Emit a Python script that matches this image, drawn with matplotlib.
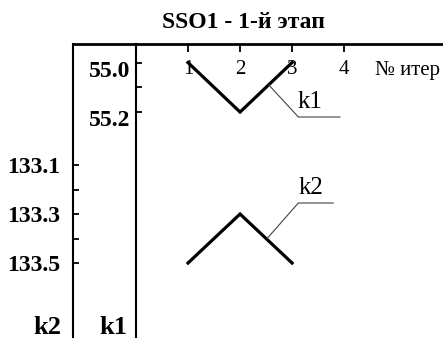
import matplotlib.pyplot as plt
from matplotlib.transforms import ScaledTranslation

plt.rcParams['font.family'] = ['Liberation Serif', 'DejaVu Serif']

# iterations of stage 1 and the two tracked coefficients
iters = [1, 2, 3]
k1 = [55.0, 55.2, 55.0]
k2 = [133.5, 133.3, 133.5]

iter_ticks = [1, 2, 3, 4]
k1_ticks = [55.0, 55.2]
k1_labels = ['55.0', '55.2']
k2_ticks = [133.1, 133.3, 133.5]
k2_labels = ['133.1', '133.3', '133.5']

W, H = 443, 345
fig = plt.figure(figsize=(W / 100, H / 100), dpi=100)
rect = [73 / W, 8 / H, 370 / W, 293 / H]
ax2 = fig.add_axes(rect)  # k2 scale on the outer left line
ax1 = fig.add_axes(rect)  # k1 scale on the inner line
ax1.patch.set_visible(False)

for ax in (ax1, ax2):
    ax.set_xlim(-1.21, 5.9)

ax2.set_ylim(133.802, 132.606)
ax1.set_ylim(56.109, 54.925)

# outer frame: top line with iteration ticks, left line for k2
for s in ('right', 'bottom'):
    ax2.spines[s].set_visible(False)
ax2.spines['top'].set_linewidth(2)
ax2.spines['left'].set_linewidth(1.5)
ax2.xaxis.tick_top()
ax2.set_xticks(iter_ticks)
ax2.tick_params(axis='x', direction='in', length=6, width=1.3, pad=-25, labelsize=15)
ax2.set_yticks(k2_ticks, labels=k2_labels, fontweight='bold')
ax2.set_yticks([133.2, 133.4], minor=True)
ax2.tick_params(axis='y', which='both', direction='in', length=4, width=1.3,
                pad=9, labelsize=17)

# inner line for k1
for s in ('right', 'bottom', 'top'):
    ax1.spines[s].set_visible(False)
ax1.spines['left'].set_position(('data', 0))
ax1.spines['left'].set_linewidth(1.5)
ax1.set_xticks([])
ax1.set_yticks(k1_ticks, labels=k1_labels, fontweight='bold')
ax1.set_yticks([55.1], minor=True)
ax1.tick_params(axis='y', which='both', direction='in', length=4, width=1.3,
                pad=4, labelsize=17)
# k1 numbers sit a little below their ticks
shift = ScaledTranslation(0, -6 / 100, fig.dpi_scale_trans)
for lab in ax1.get_yticklabels():
    lab.set_transform(lab.get_transform() + shift)

ax1.plot(iters, k1, color='black', lw=2.3, solid_joinstyle='miter')
ax2.plot(iters, k2, color='black', lw=2.3, solid_joinstyle='miter')

# leader lines with curve names
ax1.plot([2.55, 3.12, 3.92], [55.09, 55.22, 55.22], color='#444444', lw=0.8)
ax1.text(3.35, 55.205, 'k1', ha='center', va='bottom', fontsize=18)
ax2.plot([2.52, 3.12, 3.79], [133.40, 133.255, 133.255], color='#444444', lw=0.8)
ax2.text(3.37, 133.24, 'k2', ha='center', va='bottom', fontsize=18)

fig.text(375 / W, 1 - 70 / H, '№ итер', ha='left', va='center', fontsize=15)
fig.text(244 / W, 1 - 22 / H, 'SSO1 - 1-й этап', ha='center', va='center',
         fontsize=17, fontweight='bold')
fig.text(47 / W, 1 - 327 / H, 'k2', ha='center', va='center', fontsize=19, fontweight='bold')
fig.text(113 / W, 1 - 327 / H, 'k1', ha='center', va='center', fontsize=19, fontweight='bold')

fig.savefig('out.png', dpi=100)
